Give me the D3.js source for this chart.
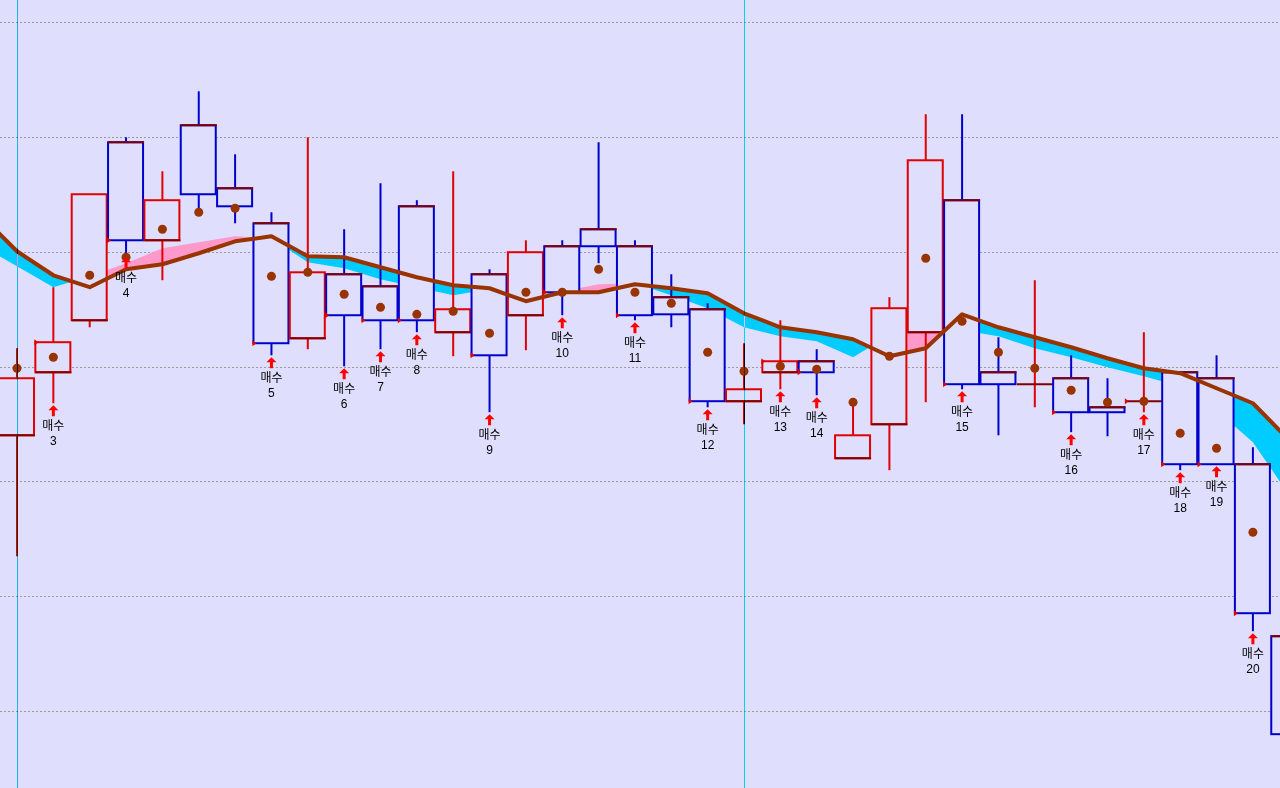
<!DOCTYPE html>
<html>
<head>
<meta charset="utf-8">
<script src="https://cdn.jsdelivr.net/npm/d3@7"></script>
<style>
  html, body { margin: 0; padding: 0; background: #DFDFFD; overflow: hidden; }
  text { font-family: "Noto Sans CJK KR", "DejaVu Sans", sans-serif; }
  .num { font-family: "Liberation Sans", Arial, sans-serif; }
  .cursor { mix-blend-mode: difference; }
</style>
</head>
<body>
<svg id="chart" width="1280" height="788"></svg>
<script>
// candle values, index 0..35 (left to right)
const opens  = [340.2, 395.1, 440.4, 595.5, 510.1, 610.3, 555.4, 524.9, 424.7, 480.5, 470.0, 539.7, 430.0, 480.5, 444.8, 504.9, 519.7, 504.9,
                460.5, 450.0, 369.9, 395.1, 404.7, 320.2, 349.8, 430.0, 545.0, 395.1, 384.7, 389.9, 364.6, 369.9, 395.1, 389.9, 315.0, 165.2];
const highs  = [416.0, 469.2, 550.2, 599.8, 570.2, 639.9, 585.0, 534.5, 599.8, 519.7, 559.8, 545.0, 570.2, 484.8, 510.1, 510.1, 595.5, 510.1,
                480.5, 455.2, 420.4, 440.4, 415.2, 369.0, 460.5, 619.9, 619.9, 425.6, 475.3, 409.9, 389.9, 430.0, 395.1, 409.9, 329.8, 175.0];
const lows   = [234.8, 368.1, 434.3, 497.0, 475.3, 534.5, 524.9, 409.9, 415.2, 400.3, 415.2, 430.0, 409.1, 360.3, 414.3, 444.8, 490.1, 440.4,
                434.3, 364.6, 349.8, 380.3, 375.1, 320.2, 309.8, 369.0, 380.3, 340.2, 364.6, 342.9, 339.4, 360.3, 309.8, 315.0, 169.5, 57.1];
const closes = [389.9, 421.3, 550.2, 510.1, 545.0, 550.2, 539.7, 420.4, 482.2, 444.8, 440.4, 440.4, 450.0, 409.9, 499.7, 464.8, 504.9, 444.8,
                445.6, 369.9, 380.3, 404.7, 395.1, 340.2, 450.9, 579.8, 384.7, 384.7, 384.7, 360.3, 360.3, 369.9, 315.0, 315.0, 185.2, 79.8];
// brown dot per candle
const dots   = [398.6, 408.2, 479.6, 495.3, 519.7, 534.5, 538.0, 478.7, 482.2, 463.1, 451.7, 445.6, 448.3, 429.1, 464.8, 464.8, 484.8, 464.8,
                455.2, 412.5, 396.0, 400.3, 397.7, 369.0, 409.1, 494.4, 439.5, 412.5, 398.6, 379.4, 369.0, 369.9, 342.0, 328.9, 255.7, 118.1];
// two averages, index -1..35
const maLong  = [531.9, 500.5, 479.6, 469.2, 484.8, 489.2, 498.8, 509.2, 513.6, 496.2, 495.3, 486.6, 477.9, 470.9, 468.3, 457.0, 464.8, 464.8, 471.8,
                 468.3, 463.9, 446.5, 434.3, 430.0, 423.9, 409.1, 416.0, 445.6, 434.3, 425.6, 416.9, 407.3, 398.6, 394.3, 381.2, 368.1, 335.9];
const maShort = [505.7, 487.5, 469.2, 478.7, 490.1, 503.1, 508.4, 513.6, 511.8, 490.9, 485.7, 476.1, 469.2, 462.2, 467.4, 457.8, 465.7, 471.8, 472.7,
                 462.2, 450.9, 434.3, 426.5, 422.1, 408.2, 427.4, 457.8, 431.7, 426.5, 416.0, 408.2, 399.5, 391.6, 382.9, 362.0, 334.2, 288.0];
// buy signals
const buyIdx = [1, 3, 7, 9, 10, 11, 13, 15, 17, 19, 21, 22, 26, 29, 31, 32, 33, 34];
const buyNo  = [3, 4, 5, 6, 7, 8, 9, 10, 11, 12, 13, 14, 15, 16, 17, 18, 19, 20];
const gridValues = [100, 200, 300, 400, 500, 600, 700];
const cursorIdx = [0, 20];

const W = 1280, H = 788;
const bg = '#DFDFFD', red = '#E00000', blue = '#0000CC', darkRed = '#800000', brown = '#993300';

const svg = d3.select('#chart');
const defs = svg.append('defs');
svg.append('rect').attr('width', W).attr('height', H).attr('fill', bg);

const x = d3.scaleLinear().domain([0, 35]).range([17, 17 + 35 * 36.35]);
const y = d3.scaleLinear().domain([100, 700]).range([711, 22.3]);

// dotted grid
svg.append('g').selectAll('line').data(gridValues).join('line')
  .attr('x1', 0).attr('x2', W)
  .attr('y1', d => Math.round(y(d)) + 0.5).attr('y2', d => Math.round(y(d)) + 0.5)
  .attr('stroke', '#9A9A9A').attr('stroke-dasharray', '2,2');

// band between the averages: pink above, cyan below
const maIdx = d3.range(-1, 36);
defs.append('clipPath').attr('id', 'clipAbove').append('path')
  .attr('d', d3.area().x(i => x(i)).y0(0).y1(i => y(maLong[i + 1]))(maIdx));
defs.append('clipPath').attr('id', 'clipBelow').append('path')
  .attr('d', d3.area().x(i => x(i)).y0(H).y1(i => y(maLong[i + 1]))(maIdx));
const band = d3.area().x(i => x(i)).y0(i => y(maLong[i + 1])).y1(i => y(maShort[i + 1]));
svg.append('path').attr('d', band(maIdx)).attr('fill', '#FF99CC').attr('clip-path', 'url(#clipAbove)');
svg.append('path').attr('d', band(maIdx)).attr('fill', '#00CCFF').attr('clip-path', 'url(#clipBelow)');

// candles
const candles = d3.range(opens.length).map(i => ({
  i, o: opens[i], h: highs[i], l: lows[i], c: closes[i], up: closes[i] >= opens[i]
}));
const cg = svg.append('g').selectAll('g').data(candles).join('g');
cg.append('line')
  .attr('x1', d => x(d.i)).attr('x2', d => x(d.i))
  .attr('y1', d => y(d.h)).attr('y2', d => y(d.l))
  .attr('stroke', d => d.up ? red : blue).attr('stroke-width', 2);
cg.append('rect')
  .attr('x', d => x(d.i) - 18).attr('width', 35)
  .attr('y', d => y(Math.max(d.o, d.c))).attr('height', d => Math.abs(y(d.o) - y(d.c)))
  .attr('fill', bg)
  .attr('stroke', d => d.up ? red : blue).attr('stroke-width', 2)
  .attr('stroke-opacity', d => d.o === d.c ? 0 : 1);
// open edge in dark red
cg.append('line')
  .attr('x1', d => x(d.i) - 18).attr('x2', d => x(d.i) + 18)
  .attr('y1', d => y(d.o)).attr('y2', d => y(d.o))
  .attr('stroke', darkRed).attr('stroke-width', 2);

// long average line
svg.append('path')
  .attr('d', d3.line().x(i => x(i)).y(i => y(maLong[i + 1]))(maIdx))
  .attr('fill', 'none').attr('stroke', brown).attr('stroke-width', 4).attr('stroke-linejoin', 'round');

// dots
svg.append('g').selectAll('circle').data(dots).join('circle')
  .attr('cx', (d, i) => x(i)).attr('cy', d => y(d)).attr('r', 4.5).attr('fill', brown);

// buy markers
const bm = svg.append('g').selectAll('g').data(buyIdx).join('g');
bm.append('path')
  .attr('d', i => {
    const l = x(i) - 18, yc = y(closes[i]);
    return `M${l - 1},${yc - 3}L${l + 3},${yc}L${l - 1},${yc + 3}Z`;
  })
  .attr('fill', red);
bm.append('path')
  .attr('d', i => {
    const cx = x(i), t = y(lows[i]) + 2;
    return `M${cx},${t}L${cx + 5},${t + 5}L${cx + 1.5},${t + 5}L${cx + 1.5},${t + 11}L${cx - 1.5},${t + 11}L${cx - 1.5},${t + 5}L${cx - 5},${t + 5}Z`;
  })
  .attr('fill', '#FF0000');
bm.append('text')
  .attr('x', i => x(i)).attr('y', i => y(lows[i]) + 27)
  .attr('text-anchor', 'middle').attr('font-size', 12).attr('fill', '#000')
  .text('매수');
bm.append('text').attr('class', 'num')
  .attr('x', i => x(i)).attr('y', i => y(lows[i]) + 42)
  .attr('text-anchor', 'middle').attr('font-size', 12).attr('fill', '#000')
  .text((i, k) => buyNo[k]);

// cursor lines, inverted over whatever lies below
svg.append('g').selectAll('line').data(cursorIdx).join('line')
  .attr('class', 'cursor')
  .attr('x1', d => Math.round(x(d)) + 0.5).attr('x2', d => Math.round(x(d)) + 0.5)
  .attr('y1', 0).attr('y2', H)
  .attr('stroke', (d, i) => i === 0 ? 'rgb(193,47,23)' : 'rgb(223,13,13)');
</script>
</body>
</html>
